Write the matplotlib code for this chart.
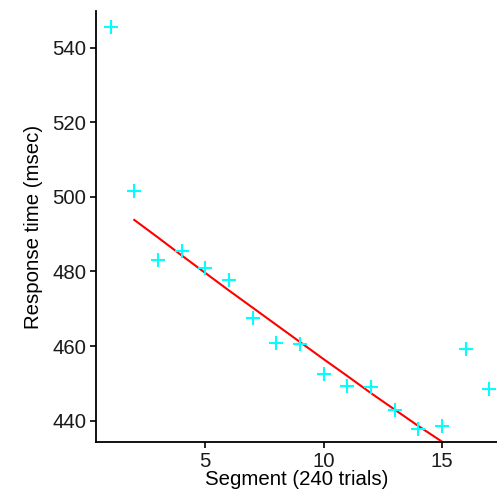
import matplotlib
matplotlib.use("Agg")
import matplotlib.pyplot as plt

plt.rcParams["font.family"] = ["Liberation Sans", "DejaVu Sans"]

# mean response time per segment
segment = [1, 2, 3, 4, 5, 6, 7, 8, 9, 10, 11, 12, 13, 14, 15, 16, 17]
rt = [545.4, 501.6, 483.0, 485.6, 480.8, 477.6, 467.5, 460.9, 460.6,
      452.4, 449.4, 448.9, 442.8, 437.7, 438.7, 459.3, 448.6]

# fitted curve (segments 2-15)
fit_x = [2, 3, 4, 5, 6, 7, 8, 9, 10, 11, 12, 13, 14, 15]
fit_y = [493.8, 489.1, 484.3, 479.6, 474.9, 470.3, 465.7, 461.1,
         456.5, 452.0, 447.4, 443.0, 438.6, 434.4]

x_ticks = [5, 10, 15]
y_ticks = [440, 460, 480, 500, 520, 540]

fig = plt.figure(figsize=(4.97, 4.97), dpi=100)
ax = fig.add_axes([0.194, 0.110, 0.806, 0.868])

ax.plot(fit_x, fit_y, color="red", lw=1.5, zorder=2, clip_on=False)
ax.plot(segment, rt, linestyle="none", marker="+", color="cyan",
        markersize=10, mew=1.5, zorder=3, clip_on=False)

ax.set_xlim(0.40, 17.33)
ax.set_ylim(434.2, 549.8)
ax.set_xticks(x_ticks)
ax.set_yticks(y_ticks)

for side in ["top", "right"]:
    ax.spines[side].set_visible(False)
for side in ["left", "bottom"]:
    ax.spines[side].set_linewidth(1.3)
    ax.spines[side].set_color("black")

ax.tick_params(axis="both", direction="out", length=4, width=1.2,
               color="black", labelsize=14.7, labelcolor="#1a1a1a", pad=3.3)

ax.set_xlabel("Segment (240 trials)", fontsize=14.7, labelpad=-1)
ax.set_ylabel("Response time (msec)", fontsize=14.7, labelpad=7)

fig.savefig("out.png", dpi=100)
